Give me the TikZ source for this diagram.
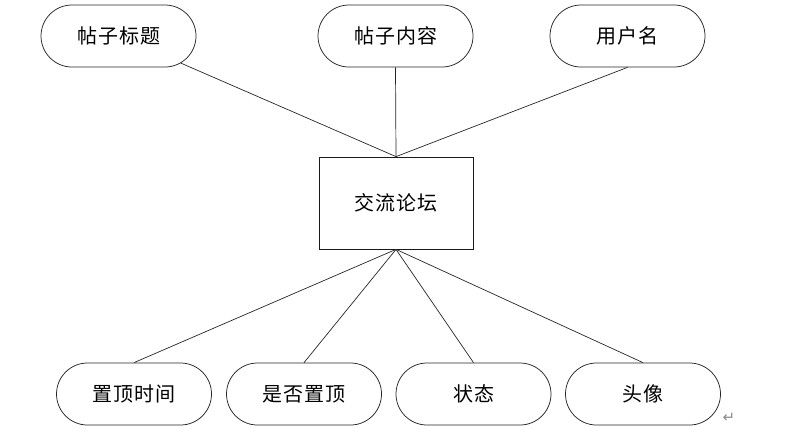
\documentclass[tikz,border=0pt]{standalone}
\usepackage{fontspec}
\newfontfamily\cjk[LetterSpace=5]{Noto Sans CJK SC}
\newfontfamily\dvs{DejaVu Sans}
\usetikzlibrary{shapes.misc}
\tikzset{%
    att/.style={rounded rectangle, draw=black!85, line width=0.75pt, minimum width=155pt, minimum height=62pt, inner sep=0pt, font=\cjk\fontsize{20}{20}\selectfont},
    ent/.style={rectangle, draw=black!90, line width=0.75pt, minimum width=154pt, minimum height=92pt, inner sep=0pt, font=\cjk\fontsize{20}{20}\selectfont},
    lin/.style={line width=0.7pt, black!85}
}
\begin{document}
\begin{tikzpicture}[x=1pt,y=-1pt]
    \useasboundingbox (0,0) rectangle (803,429);
    \node [ent] (lt) at (396,203) {交流论坛};
    \node [att] (t1) at (118.5,36) {帖子标题};
    \node [att] (t2) at (395.5,36) {帖子内容};
    \node [att] (t3) at (627.5,36) {用户名};
    \node [att] (b1) at (134,394) {置顶时间};
    \node [att] (b2) at (304,394) {是否置顶};
    \node [att] (b3) at (473.5,394) {状态};
    \node [att] (b4) at (643,394) {头像};
    \node [font=\dvs\fontsize{15}{15}\selectfont, text=black!45, inner sep=0pt] (ret) at (729,418) {↵};
    \draw [lin] (t1) -- (lt.north);
    \draw [lin] (t2.south) -- (lt.north);
    \draw [lin] (t3.south) -- (lt.north);
    \draw [lin] (lt.south) -- (b1.north);
    \draw [lin] (lt.south) -- (b2.north);
    \draw [lin] (lt.south) -- (b3.north);
    \draw [lin] (lt.south) -- (b4.north);
\end{tikzpicture}
\end{document}
